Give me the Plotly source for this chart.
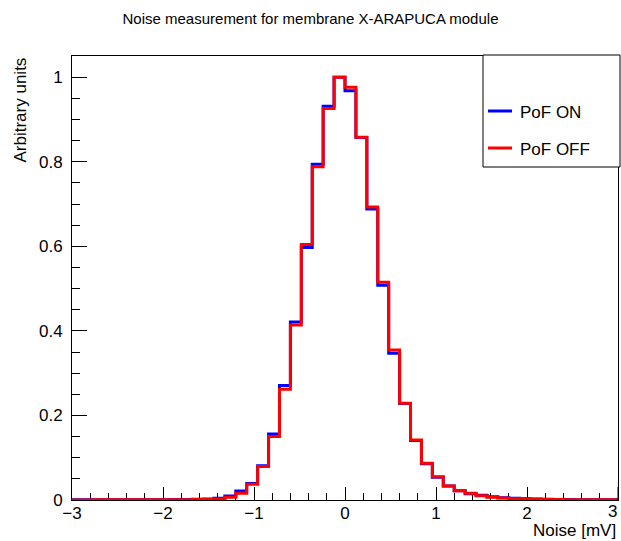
import numpy as np
import plotly.graph_objects as go

# ---- data ----
x_min, x_max, n_bins = -3.0, 3.0, 50
series_names = ["PoF ON", "PoF OFF"]
series_colors = ["#0000ff", "#ff0000"]

pof_on = [
    0.0003, 0.0003, 0.0004, 0.0004, 0.0005, 0.0005, 0.0006, 0.0007, 0.0008, 0.0010,
    0.0012, 0.0016, 0.0022, 0.0040, 0.0095, 0.021, 0.039, 0.081, 0.156, 0.271,
    0.421, 0.597, 0.794, 0.931, 1.000, 0.968, 0.857, 0.688, 0.508, 0.347,
    0.228, 0.141, 0.086, 0.054, 0.033, 0.022, 0.015, 0.011, 0.0075, 0.0055,
    0.0040, 0.0030, 0.0022, 0.0017, 0.0013, 0.0010, 0.0008, 0.0006, 0.0005, 0.0004,
]
pof_off = [
    0.0002, 0.0002, 0.0003, 0.0003, 0.0003, 0.0004, 0.0004, 0.0005, 0.0005, 0.0006,
    0.0008, 0.0010, 0.0013, 0.0025, 0.0064, 0.016, 0.037, 0.079, 0.150, 0.262,
    0.414, 0.604, 0.788, 0.926, 1.000, 0.976, 0.858, 0.693, 0.515, 0.355,
    0.229, 0.142, 0.087, 0.055, 0.033, 0.022, 0.016, 0.010, 0.0065, 0.0045,
    0.0032, 0.0024, 0.0018, 0.0013, 0.0010, 0.0008, 0.0006, 0.0005, 0.0004, 0.0003,
]

x_tick_vals = [-3, -2, -1, 0, 1, 2, 3]
x_tick_text = ["\u22123", "\u22122", "\u22121", "0", "1", "2", "3"]

title_text = "Noise measurement for membrane X-ARAPUCA module"
x_title = "Noise [mV]"
y_title = "Arbitrary units"

edges = np.linspace(x_min, x_max, n_bins + 1)

FONT = "Liberation Sans, Arial, sans-serif"

fig = go.Figure()
for name, vals, col in zip(series_names, [pof_on, pof_off], series_colors):
    yv = list(vals) + [vals[-1]]
    fig.add_trace(go.Scatter(
        x=edges, y=yv, mode="lines", name=name,
        line=dict(color=col, width=3, shape="hv"),
        cliponaxis=False, showlegend=False, hoverinfo="skip",
    ))

W, H = 621, 541
ml, mr, mt, mb = 72, 3, 56, 41
pw, ph = W - ml - mr, H - mt - mb

def px2paper(px, py):
    return (px - ml) / pw, (H - mb - py) / ph

fig.update_layout(
    width=W, height=H,
    margin=dict(l=ml, r=mr, t=mt, b=mb, pad=0, autoexpand=False),
    paper_bgcolor="white", plot_bgcolor="white",
    font=dict(family=FONT, size=17, color="black"),
    title=dict(text=title_text, x=0.5, xref="container", xanchor="center",
               y=1 - 19 / H, yref="container", yanchor="middle",
               font=dict(family=FONT, size=15, color="black")),
)

# all but the last label as axis tick labels; the last (at the right edge) is
# placed as right-aligned text, like ROOT does, so it stays inside the canvas
fig.update_xaxes(
    range=[x_min, x_max], tickmode="array", tickvals=x_tick_vals[:-1], ticktext=x_tick_text[:-1],
    showgrid=False, zeroline=False, automargin=False,
    showline=True, linecolor="black", linewidth=1, mirror=True,
    ticks="inside", ticklen=13, tickwidth=1, tickcolor="black",
    minor=dict(ticks="inside", ticklen=7, dtick=0.2, tick0=0, tickcolor="black", showgrid=False),
    tickfont=dict(family=FONT, size=17, color="black"),
    layer="below traces", ticklabelstandoff=-2,
)
fig.add_shape(type="line", xref="x", yref="paper", x0=x_tick_vals[-1], x1=x_tick_vals[-1],
              y0=0, y1=13 / ph, line=dict(color="black", width=1), layer="above")
fig.add_annotation(text=x_tick_text[-1], xref="x", yref="paper", x=x_tick_vals[-1],
                   y=-(511 - (H - mb)) / ph, xanchor="right", yanchor="middle", xshift=1,
                   showarrow=False, font=dict(family=FONT, size=17, color="black"))

fig.update_yaxes(
    range=[0, 1.05], dtick=0.2, tick0=0,
    showgrid=False, zeroline=False, automargin=False,
    showline=True, linecolor="black", linewidth=1, mirror=True,
    ticks="inside", ticklen=15, tickwidth=1, tickcolor="black",
    minor=dict(ticks="inside", ticklen=8, dtick=0.05, tick0=0, tickcolor="black", showgrid=False),
    tickfont=dict(family=FONT, size=17, color="black"),
    layer="below traces", ticklabelstandoff=5,
)

# axis titles (ROOT style: aligned to axis end)
fig.add_annotation(text=x_title, xref="paper", yref="paper", x=1.0, y=-(530 - (H - mb)) / ph,
                   xanchor="right", yanchor="middle", showarrow=False,
                   font=dict(family=FONT, size=17, color="black"))
xa, _ = px2paper(20, 0)
fig.add_annotation(text=y_title, xref="paper", yref="paper", x=xa, y=1.0,
                   xanchor="center", yanchor="top", textangle=-90, showarrow=False,
                   font=dict(family=FONT, size=17, color="black"))

# legend box
x0, y0 = px2paper(483, 167)
x1, y1 = px2paper(620, 55)
fig.add_shape(type="rect", xref="paper", yref="paper", x0=x0, y0=y0, x1=x1, y1=y1,
              line=dict(color="black", width=1), fillcolor="white", layer="above")
for name, col, py in zip(series_names, series_colors, [111, 148]):
    lx0, ly = px2paper(488, py)
    lx1, _ = px2paper(512, py)
    fig.add_shape(type="line", xref="paper", yref="paper", x0=lx0, x1=lx1, y0=ly, y1=ly,
                  line=dict(color=col, width=3), layer="above")
    tx, ty = px2paper(518, py + 1)
    fig.add_annotation(text=name, xref="paper", yref="paper", x=tx, y=ty,
                       xanchor="left", yanchor="middle", showarrow=False,
                       font=dict(family=FONT, size=17, color="black"))

fig.write_html("out.html", config={"displayModeBar": False, "staticPlot": True},
               post_script="document.body.style.margin='0';document.body.style.padding='0';document.body.style.overflow='hidden';")
